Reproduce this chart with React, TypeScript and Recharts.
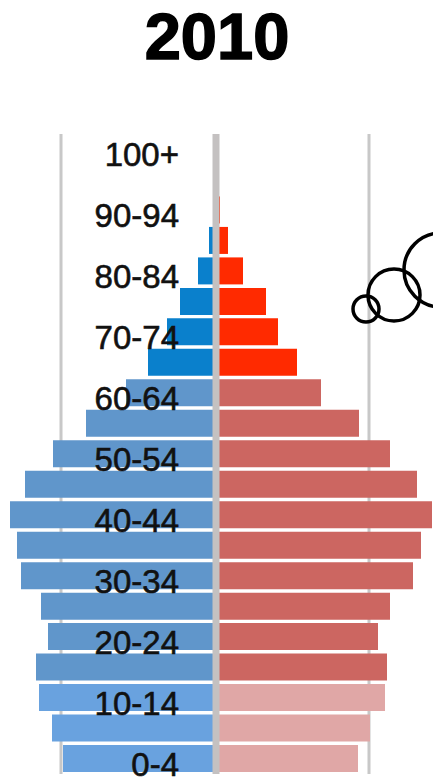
import React from "react"
import {
	BarChart,
	Bar,
	XAxis,
	YAxis,
	CartesianGrid,
	ReferenceLine,
	Cell,
	LabelList,
} from "recharts"

// age groups from youngest to oldest
const ageGroups = [
	"0-4", "5-9", "10-14", "15-19", "20-24", "25-29", "30-34", "35-39",
	"40-44", "45-49", "50-54", "55-59", "60-64", "65-69", "70-74", "75-79",
	"80-84", "85-89", "90-94", "95-99", "100+",
]

// bar lengths (same unit on both sides)
const male = [153, 164, 177, 180, 168, 175, 195, 199, 206, 191, 163, 130, 90, 68, 49, 36, 18, 7, 3, 2, 1]
const female = [142, 154, 169, 171, 162, 174, 197, 205, 216, 201, 174, 143, 105, 81, 62, 50, 27, 12, 4, 3, 2]

const xDomain: [number, number] = [-216, 217]
const gridTicks = [-155, 153]

const maleColor = (i: number) => (i < 3 ? "#69a2df" : i < 13 ? "#6096cb" : "#0a80cc")
const femaleColor = (i: number) => (i < 3 ? "#e0a7a6" : i < 13 ? "#cc6661" : "#ff2a00")

const data = ageGroups.map((age, i) => ({ age, male: -male[i], female: female[i] }))

const AgeLabel = (props: any) => {
	const { y, height, index } = props
	if (index % 2 !== 0) return null
	return (
		<text
			x={179}
			y={Number(y) + Number(height) / 2}
			dy={17}
			textAnchor="end"
			fontFamily="Liberation Sans, Arial, sans-serif"
			fontSize={33}
			fill="#111"
			stroke="#111"
			strokeWidth={0.6}
		>
			{ageGroups[index]}
		</text>
	)
}

const gridX = ({ xAxis, offset }: any) => {
	if (xAxis && typeof xAxis.scale === "function") return gridTicks.map((t) => xAxis.scale(t))
	const [lo, hi] = xDomain
	return gridTicks.map((t) => offset.left + ((t - lo) / (hi - lo)) * offset.width)
}

export default function App() {
	return (
		<div style={{ position: "absolute", left: 0, top: 0, width: 433, height: 780, background: "#fff" }}>
			<BarChart
				width={433}
				height={780}
				data={data}
				layout="vertical"
				stackOffset="sign"
				barCategoryGap={1.5}
				margin={{ top: 134, right: 0, bottom: 6, left: 0 }}
			>
				<CartesianGrid
					horizontal={false}
					stroke="#c8c8c8"
					strokeWidth={3}
					verticalCoordinatesGenerator={gridX}
				/>
				<XAxis
					type="number"
					domain={xDomain}
					ticks={gridTicks}
					height={0}
					tick={false}
					axisLine={false}
					tickLine={false}
				/>
				<YAxis type="category" dataKey="age" reversed width={0} hide />
				<Bar dataKey="male" stackId="a" isAnimationActive={false}>
					{data.map((_, i) => (
						<Cell key={`m${i}`} fill={maleColor(i)} />
					))}
					<LabelList dataKey="age" content={<AgeLabel />} />
				</Bar>
				<Bar dataKey="female" stackId="a" isAnimationActive={false}>
					{data.map((_, i) => (
						<Cell key={`f${i}`} fill={femaleColor(i)} />
					))}
				</Bar>
				<ReferenceLine x={0} stroke="#c4c1c1" strokeWidth={7} />
			</BarChart>
			<svg
				width={433}
				height={780}
				style={{ position: "absolute", left: 0, top: 0, pointerEvents: "none" }}
			>
				<text
					x={217}
					y={59}
					textAnchor="middle"
					fontFamily="Liberation Sans, Arial, sans-serif"
					fontWeight="bold"
					fontSize={65}
					fill="#000"
					stroke="#000"
					strokeWidth={1.5}
				>
					2010
				</text>
				<g fill="none" stroke="#000" strokeWidth={3.5}>
					<circle cx={441} cy={270} r={37} />
					<circle cx={394} cy={295} r={26} />
					<circle cx={366} cy={309} r={13} />
				</g>
			</svg>
		</div>
	)
}
